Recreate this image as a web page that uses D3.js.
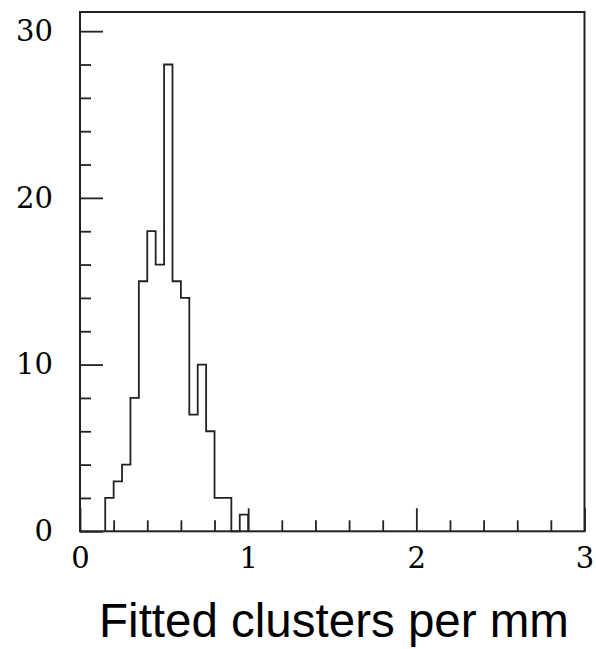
<!DOCTYPE html>
<html>
<head>
<meta charset="utf-8">
<script src="https://cdn.jsdelivr.net/npm/d3@7"></script>
<style>
  html, body { margin: 0; padding: 0; background: #fff; }
  svg { display: block; }
</style>
</head>
<body>
<div id="chart"></div>
<script>
// Histogram of fitted clusters per mm (bin lower edges and counts)
const binEdges = [0.15, 0.20, 0.25, 0.30, 0.35, 0.40, 0.45, 0.50, 0.55,
                  0.60, 0.65, 0.70, 0.75, 0.80, 0.85, 0.90, 0.95, 1.00];
const counts   = [2, 3, 4, 8, 15, 18, 16, 28, 15, 14, 7, 10, 6, 2, 2, 0, 1];

const xMajorTicks = [0, 1, 2, 3];
const xMinorTicks = [0.2, 0.4, 0.6, 0.8, 1.2, 1.4, 1.6, 1.8, 2.2, 2.4, 2.6, 2.8];
const yMajorTicks = [0, 10, 20, 30];
const yMinorTicks = [2, 4, 6, 8, 12, 14, 16, 18, 22, 24, 26, 28];
const xTitle = "Fitted clusters per mm";

const W = 596, H = 649;
const plotLeft = 80, plotRight = 584.5, plotTop = 12, plotBottom = 531.3;
const ink = "#222";

const svg = d3.select("#chart").append("svg")
  .attr("width", W).attr("height", H);

const x = d3.scaleLinear().domain([0, 3]).range([plotLeft, plotRight]);
const y = d3.scaleLinear().domain([0, 31.15]).range([plotBottom, plotTop]);

// Step outline of the histogram
const pts = [[binEdges[0], 0]];
counts.forEach((c, i) => pts.push([binEdges[i], c]));
pts.push([binEdges[counts.length], counts[counts.length - 1]]);
pts.push([binEdges[counts.length], 0]);

const line = d3.line()
  .x(d => x(d[0])).y(d => y(d[1]))
  .curve(d3.curveStepAfter);

svg.append("path")
  .attr("d", line(pts))
  .attr("fill", "none")
  .attr("stroke", ink)
  .attr("stroke-width", 1.8);

const numFont = "'DejaVu Serif', serif";

function styleAxis(g) {
  g.select(".domain").remove();
  g.selectAll(".tick line").attr("stroke", ink).attr("stroke-width", 1.8);
  g.selectAll(".tick text")
    .attr("fill", "#000")
    .style("font-family", numFont)
    .style("font-size", "29px");
}

// Left axis: major ticks with labels, minor ticks without
svg.append("g").attr("transform", `translate(${plotLeft},0)`)
  .call(d3.axisLeft(y).tickValues(yMajorTicks).tickSize(-23).tickPadding(27)
        .tickFormat(d3.format("d")))
  .call(styleAxis);
svg.append("g").attr("transform", `translate(${plotLeft},0)`)
  .call(d3.axisLeft(y).tickValues(yMinorTicks).tickSize(-11).tickFormat(""))
  .call(styleAxis);

// Bottom axis
svg.append("g").attr("transform", `translate(0,${plotBottom})`)
  .call(d3.axisBottom(x).tickValues(xMajorTicks).tickSize(-23).tickPadding(16)
        .tickFormat(d3.format("d")))
  .call(styleAxis);
svg.append("g").attr("transform", `translate(0,${plotBottom})`)
  .call(d3.axisBottom(x).tickValues(xMinorTicks).tickSize(-11).tickFormat(""))
  .call(styleAxis);

// Frame
svg.append("rect")
  .attr("x", plotLeft).attr("y", plotTop)
  .attr("width", plotRight - plotLeft).attr("height", plotBottom - plotTop)
  .attr("fill", "none")
  .attr("stroke", ink)
  .attr("stroke-width", 2);

// Axis title
svg.append("text")
  .attr("x", 334).attr("y", 636.7)
  .attr("text-anchor", "middle")
  .style("font-family", "'Liberation Sans', Arial, sans-serif")
  .style("font-size", "47.5px")
  .attr("fill", "#000")
  .text(xTitle);
</script>
</body>
</html>
